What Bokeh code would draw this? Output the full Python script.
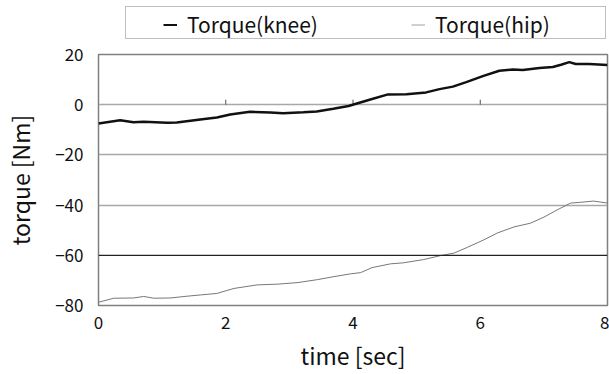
from bokeh.plotting import figure
from bokeh.layouts import column
from bokeh.models import Legend, LegendItem, Span, FixedTicker, Range1d
from bokeh.embed import file_html
from bokeh.resources import INLINE

knee_t = [0, 0.34, 0.55, 0.71, 1.08, 1.23, 1.6, 1.86, 2.07, 2.38, 2.7, 2.9, 3.22, 3.43,
          3.69, 3.93, 4.26, 4.55, 4.84, 5.15, 5.36, 5.57, 5.78, 6.04, 6.30, 6.51, 6.67,
          6.93, 7.14, 7.27, 7.40, 7.50, 7.71, 8.0]
knee_v = [-7.5, -6.2, -7.0, -6.8, -7.2, -7.1, -5.9, -5.1, -3.9, -2.8, -3.1, -3.4, -3.0, -2.7,
          -1.6, -0.5, 2.0, 4.1, 4.2, 4.9, 6.2, 7.2, 9.0, 11.4, 13.5, 14.0, 13.8,
          14.6, 15.0, 15.9, 16.95, 16.2, 16.2, 15.8]

hip_t = [0, 0.24, 0.55, 0.71, 0.87, 1.13, 1.39, 1.6, 1.86, 2.13, 2.49, 2.81, 3.12, 3.44,
         3.70, 3.96, 4.12, 4.30, 4.59, 4.79, 5.11, 5.38, 5.59, 5.80, 6.06, 6.27, 6.53,
         6.79, 7.0, 7.21, 7.42, 7.57, 7.78, 8.0]
hip_v = [-78.7, -77.1, -77.0, -76.4, -77.1, -77.0, -76.3, -75.8, -75.2, -73.2, -71.8, -71.5,
         -70.9, -69.7, -68.5, -67.4, -66.9, -64.9, -63.4, -63.0, -61.7, -60.1, -59.1, -56.8,
         -53.8, -51.1, -48.7, -47.2, -44.8, -41.9, -39.2, -38.9, -38.4, -39.2]

series_names = ["Torque(knee)", "Torque(hip)"]
x_ticks = [0, 2, 4, 6, 8]
y_ticks = [-80, -60, -40, -20, 0, 20]
grey_grid = [-40, -20, 0]
dark_grid = -60
inner_ticks = [2, 4, 6]

FONT = "Noto Sans CJK JP"
KNEE_COLOR = "#111111"
HIP_COLOR = "#777777"

# ---------------- main chart ----------------
p = figure(width=609, height=332, output_backend="svg", toolbar_location=None,
           x_range=Range1d(0, 8), y_range=Range1d(-80, 20),
           min_border_left=98, min_border_right=2, min_border_top=12, min_border_bottom=69)
p.background_fill_color = "white"
p.border_fill_color = "white"
p.outline_line_color = "#808080"
p.outline_line_width = 1.5

p.xgrid.visible = False
p.ygrid.ticker = FixedTicker(ticks=grey_grid)
p.ygrid.grid_line_color = "#a8a8a8"
p.ygrid.grid_line_width = 1.5
p.add_layout(Span(location=dark_grid, dimension="width", line_color="#222222", line_width=1.2))

# small ticks on the zero line
p.segment(x0=inner_ticks, x1=inner_ticks, y0=[0] * 3, y1=[2] * 3, line_color="#555555", line_width=1)

p.line(knee_t, knee_v, line_color=KNEE_COLOR, line_width=2.5)
p.line(hip_t, hip_v, line_color=HIP_COLOR, line_width=1)

for ax in (p.xaxis[0], p.yaxis[0]):
    ax.axis_line_color = None
    ax.major_tick_line_color = None
    ax.minor_tick_line_color = None
    ax.major_tick_out = 0
    ax.major_tick_in = 0
    ax.major_label_text_font = FONT
    ax.major_label_text_font_size = "17px"
    ax.major_label_text_color = "#111111"
    ax.axis_label_text_font = FONT
    ax.axis_label_text_font_size = "23px"
    ax.axis_label_text_font_style = "normal"
    ax.axis_label_text_color = "#111111"

p.xaxis.ticker = FixedTicker(ticks=x_ticks)
p.yaxis.ticker = FixedTicker(ticks=y_ticks)
p.xaxis.axis_label = "time [sec]"
p.yaxis.axis_label = "torque [Nm]"
p.xaxis.major_label_standoff = 10
p.yaxis.major_label_standoff = 15
p.xaxis.axis_label_standoff = 6
p.yaxis.axis_label_standoff = 15

# ---------------- legend strip (frame aligned with the chart's frame) ----------------
lg = figure(width=609, height=42, output_backend="svg", toolbar_location=None,
            x_range=Range1d(100, 101), y_range=Range1d(100, 101),
            x_axis_location=None, y_axis_location=None,
            min_border_left=0, min_border_right=0, min_border_top=0, min_border_bottom=0)
lg.grid.visible = False
lg.outline_line_color = None
lg.background_fill_color = "white"
lg.border_fill_color = "white"

# same series, drawn off-view here, only used as legend glyph sources
k_r = lg.line(knee_t, knee_v, line_color=KNEE_COLOR, line_width=2)
h_r = lg.line(hip_t, hip_v, line_color="#a0a0a0", line_width=1)
d_r = lg.line(hip_t, hip_v, line_alpha=0)

box = Legend(items=[LegendItem(label=" ", renderers=[d_r])],
             orientation="horizontal", location=(27, 3),
             padding=5, glyph_width=10, glyph_height=21, label_height=21,
             label_width=454, label_standoff=5, margin=0,
             border_line_color="#808080", border_line_width=1,
             background_fill_color="white", background_fill_alpha=1,
             label_text_font_size="16px")
lg.add_layout(box, "center")

legend = Legend(items=[LegendItem(label=series_names[0], renderers=[k_r]),
                       LegendItem(label=series_names[1], renderers=[h_r])],
                orientation="horizontal", location=(65, 3),
                padding=5, spacing=84, label_width=140, glyph_width=14, glyph_height=21,
                label_height=21, label_standoff=10, margin=0,
                border_line_color=None, background_fill_alpha=0,
                label_text_font=FONT, label_text_font_size="21px", label_text_color="#111111")
lg.add_layout(legend, "center")

layout = column(lg, p, spacing=0)
open("out.html", "w").write(file_html(layout, INLINE))
